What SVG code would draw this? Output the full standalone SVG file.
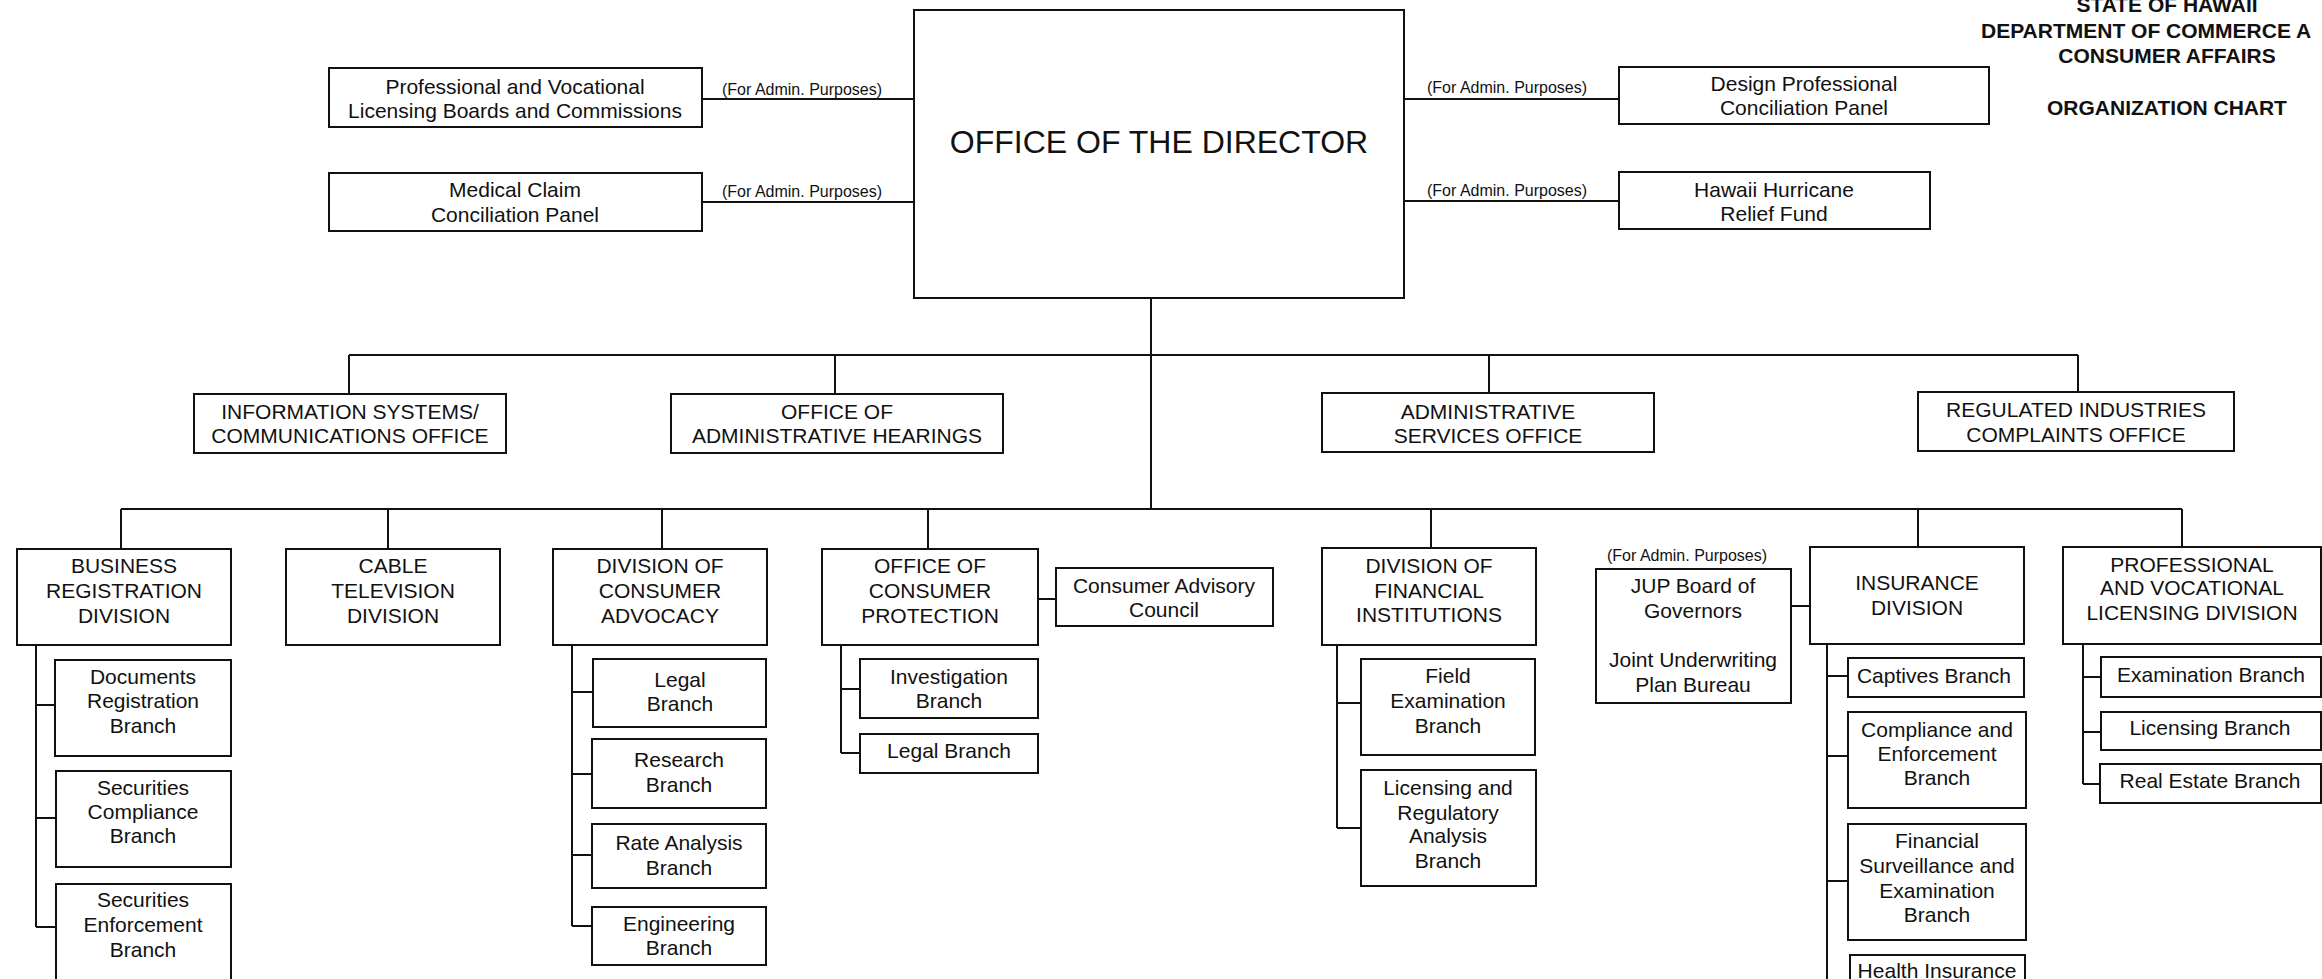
<svg xmlns="http://www.w3.org/2000/svg" width="2322" height="979" viewBox="0 0 2322 979">
<style>
.box{fill:#fff;stroke:#111;stroke-width:2}
.ln{fill:none;stroke:#111;stroke-width:2}
text{font-family:"Liberation Sans",Arial,sans-serif;fill:#111}
.t{font-size:21px;text-anchor:middle}
.s{font-size:16px}
.h{font-size:21px;font-weight:bold;text-anchor:middle}
.d{font-size:32px;text-anchor:middle}
</style>
<rect width="2322" height="979" fill="#fff"/>

<g id="connectors">
<path class="ln" d="M702 99H914M702 202H914M1404 99H1619M1404 201H1619"/>
<path class="ln" d="M1151 298V509"/>
<path class="ln" d="M349 355H2078M349 355V394M835 355V394M1489 355V393M2078 355V392"/>
<path class="ln" d="M121 509H2182M121 509V549M388 509V549M662 509V549M928 509V549M1431 509V548M1918 509V547M2182 509V547"/>
<path class="ln" d="M1038 599H1056M1791 606H1810"/>
<path class="ln" d="M36 645V927M36 705H55M36 818H56M36 927H56"/>
<path class="ln" d="M572 645V926M572 692H593M572 774H592M572 855H592M572 926H592"/>
<path class="ln" d="M841 645V753M841 689H860M841 753H860"/>
<path class="ln" d="M1337 645V828M1337 703H1361M1337 828H1361"/>
<path class="ln" d="M1827 644V979M1827 676H1848M1827 756H1848M1827 881H1848"/>
<path class="ln" d="M2083 644V784M2083 677H2101M2083 732H2101M2083 784H2100"/>
<text class="s" x="722" y="95">(For Admin. Purposes)</text>
<text class="s" x="722" y="197">(For Admin. Purposes)</text>
<text class="s" x="1427" y="93">(For Admin. Purposes)</text>
<text class="s" x="1427" y="196">(For Admin. Purposes)</text>
</g>

<g id="title">
<text class="h" x="2167" y="12">STATE OF HAWAII</text>
<text class="h" x="1981" y="38" style="text-anchor:start">DEPARTMENT OF COMMERCE A</text>
<text class="h" x="2167" y="63">CONSUMER AFFAIRS</text>
<text class="h" x="2167" y="115">ORGANIZATION CHART</text>
</g>

<g id="director"><rect class="box" x="914" y="10" width="490" height="288"/><text class="d" x="1159" y="153">OFFICE OF THE DIRECTOR</text></g>

<g id="pvlb"><rect class="box" x="329" y="68" width="373" height="59"/><text class="t" x="515" y="94">Professional and Vocational</text><text class="t" x="515" y="118">Licensing Boards and Commissions</text></g>
<g id="mccp"><rect class="box" x="329" y="173" width="373" height="58"/><text class="t" x="515" y="197">Medical Claim</text><text class="t" x="515" y="222">Conciliation Panel</text></g>
<g id="dpcp"><rect class="box" x="1619" y="67" width="370" height="57"/><text class="t" x="1804" y="91">Design Professional</text><text class="t" x="1804" y="115">Conciliation Panel</text></g>
<g id="hhrf"><rect class="box" x="1619" y="172" width="311" height="57"/><text class="t" x="1774" y="197">Hawaii Hurricane</text><text class="t" x="1774" y="221">Relief Fund</text></g>

<g id="isco"><rect class="box" x="194" y="394" width="312" height="59"/><text class="t" x="350" y="419">INFORMATION SYSTEMS/</text><text class="t" x="350" y="443">COMMUNICATIONS OFFICE</text></g>
<g id="oah"><rect class="box" x="671" y="394" width="332" height="59"/><text class="t" x="837" y="419">OFFICE OF</text><text class="t" x="837" y="443">ADMINISTRATIVE HEARINGS</text></g>
<g id="aso"><rect class="box" x="1322" y="393" width="332" height="59"/><text class="t" x="1488" y="419">ADMINISTRATIVE</text><text class="t" x="1488" y="443">SERVICES OFFICE</text></g>
<g id="rico"><rect class="box" x="1918" y="392" width="316" height="59"/><text class="t" x="2076" y="417">REGULATED INDUSTRIES</text><text class="t" x="2076" y="442">COMPLAINTS OFFICE</text></g>

<g id="brd"><rect class="box" x="17" y="549" width="214" height="96"/><text class="t" x="124" y="573">BUSINESS</text><text class="t" x="124" y="598">REGISTRATION</text><text class="t" x="124" y="623">DIVISION</text></g>
<g id="ctv"><rect class="box" x="286" y="549" width="214" height="96"/><text class="t" x="393" y="573">CABLE</text><text class="t" x="393" y="598">TELEVISION</text><text class="t" x="393" y="623">DIVISION</text></g>
<g id="dca"><rect class="box" x="553" y="549" width="214" height="96"/><text class="t" x="660" y="573">DIVISION OF</text><text class="t" x="660" y="598">CONSUMER</text><text class="t" x="660" y="623">ADVOCACY</text></g>
<g id="ocp"><rect class="box" x="822" y="549" width="216" height="96"/><text class="t" x="930" y="573">OFFICE OF</text><text class="t" x="930" y="598">CONSUMER</text><text class="t" x="930" y="623">PROTECTION</text></g>
<g id="cac"><rect class="box" x="1056" y="568" width="217" height="58"/><text class="t" x="1164" y="593">Consumer Advisory</text><text class="t" x="1164" y="617">Council</text></g>
<g id="dfi"><rect class="box" x="1322" y="548" width="214" height="97"/><text class="t" x="1429" y="573">DIVISION OF</text><text class="t" x="1429" y="598">FINANCIAL</text><text class="t" x="1429" y="622">INSTITUTIONS</text></g>
<g id="jup"><text class="s" x="1607" y="561">(For Admin. Purposes)</text><rect class="box" x="1596" y="569" width="195" height="134"/><text class="t" x="1693" y="593">JUP Board of</text><text class="t" x="1693" y="618">Governors</text><text class="t" x="1693" y="667">Joint Underwriting</text><text class="t" x="1693" y="692">Plan Bureau</text></g>
<g id="ins"><rect class="box" x="1810" y="547" width="214" height="97"/><text class="t" x="1917" y="590">INSURANCE</text><text class="t" x="1917" y="615">DIVISION</text></g>
<g id="pvld"><rect class="box" x="2063" y="547" width="258" height="97"/><text class="t" x="2192" y="572">PROFESSIONAL</text><text class="t" x="2192" y="595">AND VOCATIONAL</text><text class="t" x="2192" y="620">LICENSING DIVISION</text></g>

<g id="docs"><rect class="box" x="55" y="660" width="176" height="96"/><text class="t" x="143" y="684">Documents</text><text class="t" x="143" y="708">Registration</text><text class="t" x="143" y="733">Branch</text></g>
<g id="seccomp"><rect class="box" x="56" y="771" width="175" height="96"/><text class="t" x="143" y="795">Securities</text><text class="t" x="143" y="819">Compliance</text><text class="t" x="143" y="843">Branch</text></g>
<g id="secenf"><rect class="box" x="56" y="884" width="175" height="110"/><text class="t" x="143" y="907">Securities</text><text class="t" x="143" y="932">Enforcement</text><text class="t" x="143" y="957">Branch</text></g>

<g id="dca-legal"><rect class="box" x="593" y="659" width="173" height="68"/><text class="t" x="680" y="687">Legal</text><text class="t" x="680" y="711">Branch</text></g>
<g id="dca-research"><rect class="box" x="592" y="739" width="174" height="69"/><text class="t" x="679" y="767">Research</text><text class="t" x="679" y="792">Branch</text></g>
<g id="dca-rate"><rect class="box" x="592" y="824" width="174" height="64"/><text class="t" x="679" y="850">Rate Analysis</text><text class="t" x="679" y="875">Branch</text></g>
<g id="dca-eng"><rect class="box" x="592" y="907" width="174" height="58"/><text class="t" x="679" y="931">Engineering</text><text class="t" x="679" y="955">Branch</text></g>

<g id="ocp-inv"><rect class="box" x="860" y="659" width="178" height="59"/><text class="t" x="949" y="684">Investigation</text><text class="t" x="949" y="708">Branch</text></g>
<g id="ocp-legal"><rect class="box" x="860" y="734" width="178" height="39"/><text class="t" x="949" y="758">Legal Branch</text></g>

<g id="dfi-field"><rect class="box" x="1361" y="659" width="174" height="96"/><text class="t" x="1448" y="683">Field</text><text class="t" x="1448" y="708">Examination</text><text class="t" x="1448" y="733">Branch</text></g>
<g id="dfi-lic"><rect class="box" x="1361" y="770" width="175" height="116"/><text class="t" x="1448" y="795">Licensing and</text><text class="t" x="1448" y="820">Regulatory</text><text class="t" x="1448" y="843">Analysis</text><text class="t" x="1448" y="868">Branch</text></g>

<g id="ins-capt"><rect class="box" x="1848" y="658" width="176" height="39"/><text class="t" x="1934" y="683">Captives Branch</text></g>
<g id="ins-comp"><rect class="box" x="1848" y="712" width="178" height="96"/><text class="t" x="1937" y="737">Compliance and</text><text class="t" x="1937" y="761">Enforcement</text><text class="t" x="1937" y="785">Branch</text></g>
<g id="ins-fin"><rect class="box" x="1848" y="824" width="178" height="116"/><text class="t" x="1937" y="848">Financial</text><text class="t" x="1937" y="873">Surveillance and</text><text class="t" x="1937" y="898">Examination</text><text class="t" x="1937" y="922">Branch</text></g>
<g id="ins-health"><rect class="box" x="1850" y="955" width="175" height="40"/><text class="t" x="1937" y="978">Health Insurance</text></g>

<g id="pvld-exam"><rect class="box" x="2101" y="657" width="220" height="40"/><text class="t" x="2211" y="682">Examination Branch</text></g>
<g id="pvld-lic"><rect class="box" x="2101" y="712" width="220" height="38"/><text class="t" x="2210" y="735">Licensing Branch</text></g>
<g id="pvld-re"><rect class="box" x="2100" y="764" width="221" height="39"/><text class="t" x="2210" y="788">Real Estate Branch</text></g>
</svg>
